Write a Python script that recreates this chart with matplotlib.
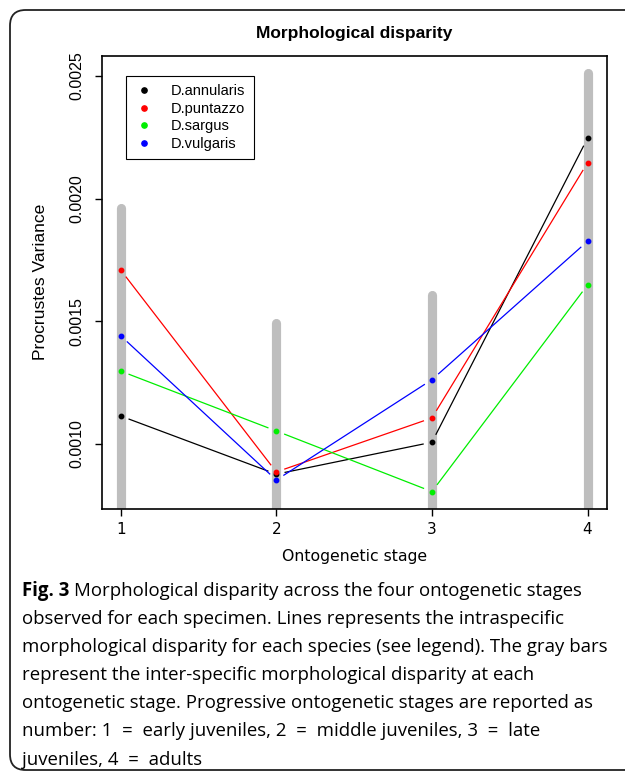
import matplotlib
matplotlib.use('Agg')
import matplotlib.pyplot as plt
from matplotlib.lines import Line2D
from matplotlib.patches import FancyBboxPatch
import numpy as np

# Data
stages = [1, 2, 3, 4]
species = ['D.annularis', 'D.puntazzo', 'D.sargus', 'D.vulgaris']
colors = ['black', 'red', '#00ee00', 'blue']
annularis = [0.001114, 0.000877, 0.001007, 0.002246]
puntazzo = [0.001709, 0.000886, 0.001106, 0.002146]
sargus = [0.001297, 0.001053, 0.000806, 0.001648]
vulgaris = [0.001441, 0.000853, 0.001262, 0.001826]
# inter-specific disparity (gray bars, top end)
bar_top = [0.001963, 0.001494, 0.001609, 0.002512]
yticks = [0.0010, 0.0015, 0.0020, 0.0025]

caption = [
    'Morphological disparity across the four ontogenetic stages',
    'observed for each specimen. Lines represents the intraspecific',
    'morphological disparity for each species (see legend). The gray bars',
    'represent the inter-specific morphological disparity at each',
    'ontogenetic stage. Progressive ontogenetic stages are reported as',
    'number: 1  =  early juveniles, 2  =  middle juveniles, 3  =  late',
    'juveniles, 4  =  adults',
]

fig = plt.figure(figsize=(6.25, 7.72), dpi=100)
ax = fig.add_axes([0.1632, 0.3413, 0.808, 0.5865])
ax.set_xlim(0.88, 4.125)
ax.set_ylim(0.000737, 0.002582)

# Gray bars
for s, top in zip(stages, bar_top):
    ax.plot([s, s], [0, top], color='#bebebe', lw=6.6, solid_capstyle='round', zorder=1)

# Lines with gaps round the points (like R type="b")
gap = 9
for vals, c in zip([annularis, puntazzo, sargus, vulgaris], colors):
    pts = ax.transData.transform(np.column_stack([stages, vals]))
    for i in range(len(pts) - 1):
        p0, p1 = pts[i], pts[i + 1]
        d = (p1 - p0) / np.hypot(*(p1 - p0))
        seg = ax.transData.inverted().transform([p0 + d * gap, p1 - d * gap])
        ax.plot(seg[:, 0], seg[:, 1], color=c, lw=0.9, zorder=2)
    ax.plot(stages, vals, 'o', color=c, ms=3.2, zorder=3)

# Axes styling
ax.set_xticks(stages)
ax.set_xticklabels([str(s) for s in stages], fontsize=11, family='DejaVu Sans')
ax.set_yticks(yticks)
ax.set_yticklabels(['%.4f' % v for v in yticks], rotation=90, ha='center',
                   va='baseline', rotation_mode='anchor',
                   fontsize=11.5, family='Liberation Sans')
ax.tick_params(length=5, width=1, direction='out')
ax.tick_params(axis='x', pad=5)
ax.tick_params(axis='y', pad=10)
for sp in ax.spines.values():
    sp.set_linewidth(1.2)

ax.set_xlabel('Ontogenetic stage', fontsize=11.3, family='DejaVu Sans', labelpad=8)
ax.set_ylabel('Procrustes Variance', fontsize=12.6, family='Liberation Sans')
ax.yaxis.set_label_coords((48 - 102) / 505, 0.5)
ax.set_title('Morphological disparity', fontsize=12.5, fontweight='bold',
             family='Liberation Sans', pad=13)

# Legend
handles = [Line2D([], [], marker='o', ls='', color=c, ms=3.8) for c in colors]
leg = ax.legend(handles, species, loc='upper left',
                bbox_to_anchor=((126 - 102) / 505, 1 - (76 - 55.7) / 452.8),
                borderaxespad=0, fancybox=False, edgecolor='black', framealpha=1,
                prop={'family': 'Liberation Sans', 'size': 10.5},
                labelspacing=0.24, handlelength=1.3, handletextpad=1.2,
                borderpad=0.58)
leg.get_frame().set_linewidth(0.8)

# Caption
fig.canvas.draw()
r = fig.canvas.get_renderer()
x0, y0 = 22 / 625, 1 - 591 / 772
t = fig.text(x0, y0, 'Fig. 3', fontsize=13.4, fontweight='bold',
             family='Open Sans', va='center')
bb = t.get_window_extent(r)
fig.text(bb.x1 / 625 + 0.008, y0, caption[0], fontsize=13.4,
         family='Open Sans', va='center')
for i, line in enumerate(caption[1:]):
    fig.text(x0, 1 - (591 + 28.1 * (i + 1)) / 772, line, fontsize=13.4,
             family='Open Sans', va='center')

# Rounded frame round the figure
frame = FancyBboxPatch((10 / 625, 2 / 772), 700 / 625, 760 / 772,
                       boxstyle='round,pad=0,rounding_size=0.025',
                       transform=fig.transFigure, fill=False,
                       edgecolor='#222222', lw=1.3, mutation_aspect=625 / 772)
fig.patches.append(frame)

plt.savefig('out.png', dpi=100)
